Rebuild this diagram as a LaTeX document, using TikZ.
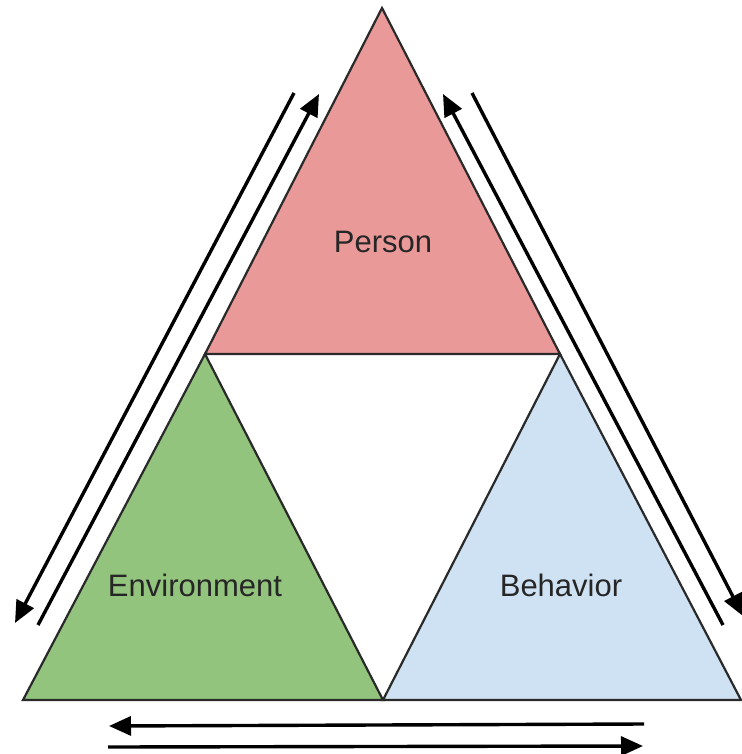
\documentclass[tikz,border=0pt]{standalone}
\usepackage{fontspec}
\setmainfont{Liberation Sans}
\usetikzlibrary{arrows.meta}
\definecolor{pinkfill}{HTML}{EA9999}
\definecolor{greenfill}{HTML}{93C47D}
\definecolor{bluefill}{HTML}{CFE2F3}
\definecolor{edge}{HTML}{2A2A2A}
\tikzset{
  tri/.style={draw=edge, line width=2.2pt, line join=miter},
  flow/.style={draw=black, line width=3.4pt, -{Triangle[length=22pt,width=19pt]}},
  lbl/.style={font=\fontsize{31pt}{36pt}\selectfont, text=black!85}
}
\begin{document}
\begin{tikzpicture}[x=1pt,y=-1pt]
\useasboundingbox (0,0) rectangle (741,754);
% corners
\coordinate (apex) at (382,8);
\coordinate (pl) at (205,354);
\coordinate (pr) at (560,354);
\coordinate (bl) at (23,700);
\coordinate (bm) at (383,700);
\coordinate (br) at (741,700);
% triangles
\draw[tri, fill=pinkfill] (apex) -- (pr) -- (pl) -- cycle;
\draw[tri, fill=greenfill] (pl) -- (bm) -- (bl) -- cycle;
\draw[tri, fill=bluefill] (pr) -- (br) -- (bm) -- cycle;
% labels
\node[lbl] (person) at (383,242) {Person};
\node[lbl] (env) at (195,585) {Environment};
\node[lbl] (beh) at (561,585) {Behavior};
% arrow end points
\coordinate (lo1) at (294,93);
\coordinate (lo2) at (15,623);
\coordinate (li1) at (38,625);
\coordinate (li2) at (319,94);
\coordinate (ri1) at (723,625);
\coordinate (ri2) at (443,94);
\coordinate (ro1) at (472,93);
\coordinate (ro2) at (743,616);
\coordinate (bt1) at (644,724);
\coordinate (bt2) at (109,726);
\coordinate (bb1) at (108,747);
\coordinate (bb2) at (643,746);
% arrows
\draw[flow] (lo1) -- (lo2);
\draw[flow] (li1) -- (li2);
\draw[flow] (ri1) -- (ri2);
\draw[flow] (ro1) -- (ro2);
\draw[flow] (bt1) -- (bt2);
\draw[flow] (bb1) -- (bb2);
\end{tikzpicture}
\end{document}
